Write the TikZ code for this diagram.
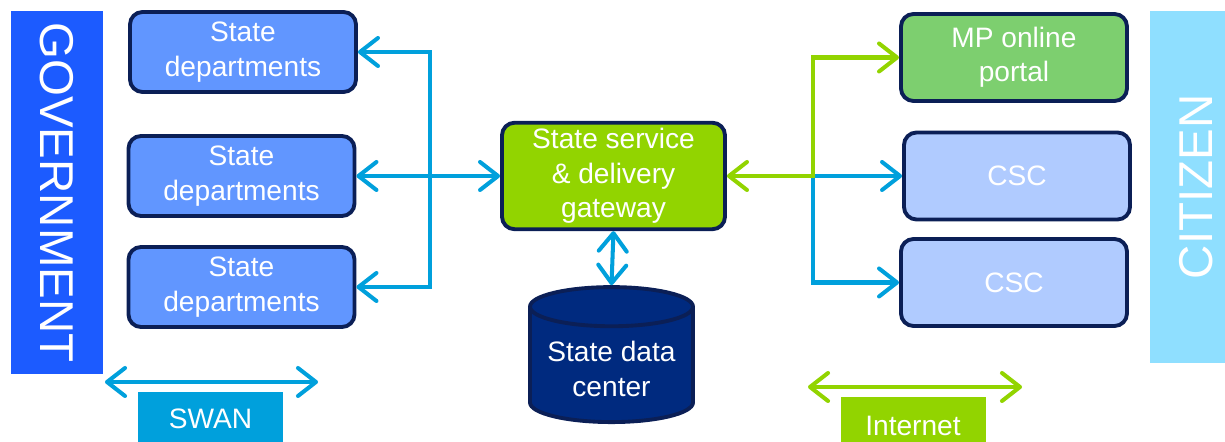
\documentclass[tikz,border=0pt]{standalone}
\usepackage{fontspec}
\setmainfont{Liberation Sans}
\usetikzlibrary{arrows.meta, shapes}

\definecolor{govblue}{HTML}{1C5BFF}
\definecolor{depblue}{HTML}{6196FF}
\definecolor{navy}{HTML}{0B1F56}
\definecolor{gwgreen}{HTML}{92D400}
\definecolor{dcblue}{HTML}{002A7F}
\definecolor{mpgreen}{HTML}{7DCF6F}
\definecolor{cscblue}{HTML}{B0CBFF}
\definecolor{citcyan}{HTML}{8FDFFF}
\definecolor{swanblue}{HTML}{00A0DC}

\begin{document}
\begin{tikzpicture}[
    % GLOBAL CFG
    font=\fontsize{16pt}{19.5pt}\selectfont,
    >={Straight Barb[length=3.6mm,width=5.6mm,round]},
    % Styles
    box/.style={% For the rounded boxes
        rectangle,
        rounded corners=2.5mm,
        draw=navy,
        line width=2.2pt,
        text=white,
        align=center,
        minimum width=4.52cm,
        minimum height=1.6cm,
        },
    store/.style={% For the data center
        cylinder,
        shape border rotate=90,
        aspect=0.28,
        draw=navy,
        fill=dcblue,
        line width=2.2pt,
        text=white,
        align=center,
        minimum width=3.26cm,
        minimum height=2.7cm,
        },
    side/.style={% For the GOVERNMENT and CITIZEN bars
        rectangle,
        text=white,
        inner sep=0pt,
        font=\fontsize{27pt}{30pt}\selectfont,
        minimum height=1.84cm,
        },
    net/.style={% For the network labels
        rectangle,
        text=white,
        inner sep=0pt,
        minimum width=2.9cm,
        },
    BlueLink/.style={% Blue connectors
        draw=swanblue,
        line width=2.3pt,
        },
    GreenLink/.style={% Green connectors
        draw=gwgreen,
        line width=2.3pt,
        },
    ]

    \path[use as bounding box, clip] (0,0) rectangle (24.5,8.84);

    % Draw the side bars
    \node[side, fill=govblue, rotate=-90, minimum width=7.26cm] (gov) at (1.14,4.99) {GOVERNMENT};
    \node[side, fill=citcyan, rotate=90, minimum width=7.04cm] (cit) at (23.92,5.10) {CITIZEN};

    % Draw the departments named dep#
    \node[box, fill=depblue] (dep1) at (4.86,7.80) {State\\departments};
    \node[box, fill=depblue] (dep2) at (4.83,5.32) {State\\departments};
    \node[box, fill=depblue] (dep3) at (4.83,3.10) {State\\departments};

    % Draw the gateway and the data center
    \node[box, fill=gwgreen, minimum width=4.46cm, minimum height=2.1cm] (gw) at (12.27,5.32) {State service\\\& delivery\\gateway};
    \node[store] (dc) at (12.23,1.46) {State data\\center};

    % Draw the citizen side
    \node[box, fill=mpgreen, minimum height=1.74cm] (mp) at (20.28,7.69) {MP online\\portal};
    \node[box, fill=cscblue, minimum height=1.74cm] (csc1) at (20.34,5.32) {CSC};
    \node[box, fill=cscblue, minimum height=1.74cm] (csc2) at (20.28,3.19) {CSC};

    % Draw the network labels
    \node[net, fill=swanblue, minimum height=1.08cm] (swan) at (4.21,0.46) {SWAN};
    \node[net, fill=gwgreen, minimum height=1.16cm] (inet) at (18.26,0.32) {Internet};

    % Joints
    \coordinate (bus) at (8.60,5.32);
    \coordinate (hub) at (16.26,5.32);
    \coordinate (swanL) at (2.10,1.20);
    \coordinate (swanR) at (6.36,1.20);
    \coordinate (inetL) at (16.16,1.10);
    \coordinate (inetR) at (20.44,1.10);

    % Government side
    \draw [<->, BlueLink] (dep1.east) -| (bus |- dep3.east) -- (dep3.east);
    \draw [<->, BlueLink] (dep2.east) -- (gw.west);
    \draw [<->, BlueLink] (gw.south) -- (dc.north);

    % Citizen side
    \draw [->, BlueLink] (hub) -- (csc1.west);
    \draw [->, BlueLink] (hub) |- (csc2.west);
    \draw [<->, GreenLink] (gw.east) -- (hub) |- (mp.west);

    % Networks
    \draw [<->, BlueLink] (swanL) -- (swanR);
    \draw [<->, GreenLink] (inetL) -- (inetR);

\end{tikzpicture}
\end{document}
